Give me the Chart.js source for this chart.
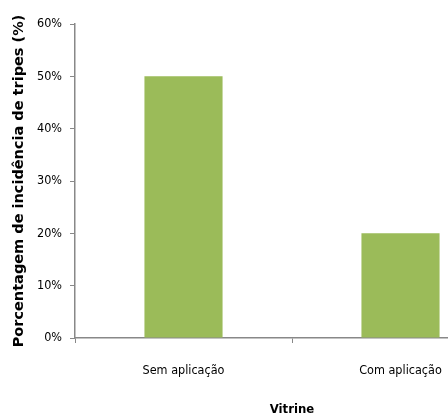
<!DOCTYPE html>
<html><head><meta charset="utf-8">
<script src="https://cdn.jsdelivr.net/npm/chart.js@4.4.0/dist/chart.umd.min.js"></script>
<style>
html,body{margin:0;padding:0;background:#fff;overflow:hidden;width:448px;height:419px;}
#wrap{position:absolute;left:0;top:0;width:520px;height:419px;}
</style></head>
<body><div id="wrap"><canvas id="c" width="520" height="419"></canvas></div>
<script>
const categories = ["Sem aplicação", "Com aplicação"];
const incidencia = [50, 20];
const yTicks = [0, 10, 20, 30, 40, 50, 60];

const condensed = "'Liberation Sans Narrow','DejaVu Sans Condensed','Liberation Sans',sans-serif";
new Chart(document.getElementById('c'), {
  type: 'bar',
  data: {
    labels: categories,
    datasets: [{ data: incidencia, backgroundColor: '#9BBB59', borderWidth: 0,
      barPercentage: 0.6, categoryPercentage: 0.6 }]
  },
  options: {
    responsive: false, animation: false,
    layout: { padding: { top: 24, right: 11, left: 0, bottom: 0 } },
    plugins: { legend: { display: false }, tooltip: { enabled: false } },
    scales: {
      x: {
        grid: { display: true, drawOnChartArea: false, drawTicks: true, tickLength: 5, color: '#888', offset: true },
        border: { color: '#888', width: 1.5 },
        ticks: { color: '#000', font: { family: condensed, size: 12.5 }, padding: 20, maxRotation: 0 },
        title: { display: true, text: 'Vitrine', color: '#000', font: { family: condensed, size: 13, weight: 'bold' }, padding: { top: 0, bottom: 2 } },
        afterFit: s => { s.height = 81; }
      },
      y: {
        min: 0, max: 60,
        afterBuildTicks: s => { s.ticks = yTicks.map(v => ({ value: v })); },
        grid: { display: true, drawOnChartArea: false, drawTicks: true, tickLength: 5, color: '#888' },
        border: { color: '#888', width: 1.5 },
        ticks: { color: '#000', font: { family: condensed, size: 12.5 }, padding: 8, callback: v => v + '%' },
        title: { display: true, text: 'Porcentagem de incidência de tripes (%)', color: '#000', font: { family: "'DejaVu Sans',sans-serif", size: 14.5, weight: 'bold' }, padding: { top: 11, bottom: 0 } },
        afterFit: s => { s.width = 75; }
      }
    }
  }
});
</script></body></html>
